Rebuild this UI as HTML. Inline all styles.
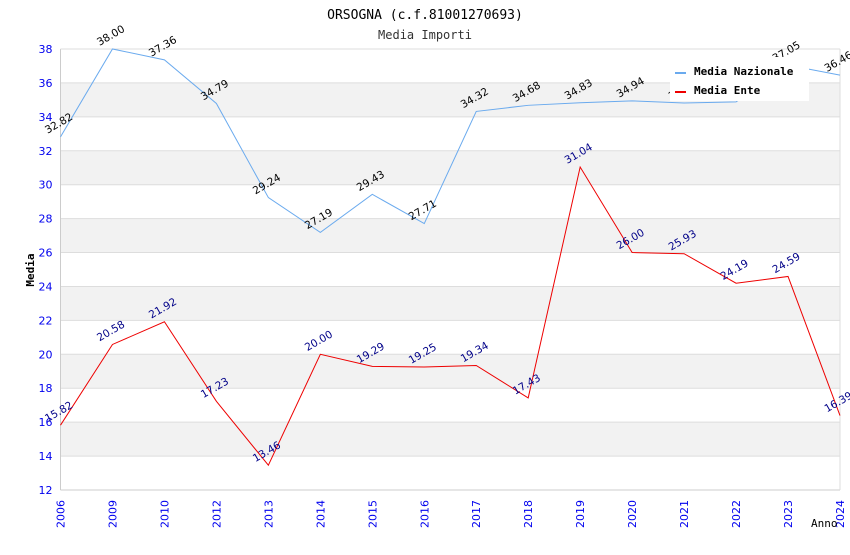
<!DOCTYPE html>
<html><head><meta charset="utf-8"><style>
body{margin:0;background:#fff}
svg text{font-family:"DejaVu Sans Mono","Liberation Mono",monospace}
svg text.s{font-family:"DejaVu Sans","Liberation Sans",sans-serif}
</style></head><body>
<svg id="c" width="850" height="550" xmlns="http://www.w3.org/2000/svg">
<text x="425" y="19" text-anchor="middle" font-size="13" fill="#000">ORSOGNA (c.f.81001270693)</text>
<text x="425" y="39" text-anchor="middle" font-size="12" fill="#333">Media Importi</text>
<g id="grid"></g><g id="axes"></g><g id="series"></g>
<text transform="translate(34,270) rotate(-90)" text-anchor="middle" font-size="11" font-weight="bold">Media</text>
<text x="811" y="527" font-size="11" fill="#000">Anno</text>
<g id="legend">
<rect x="670" y="57" width="139" height="44" fill="#fff"/>
<rect x="675" y="72" width="11" height="2" fill="#6aaaee"/>
<text x="694" y="75" font-size="11" font-weight="bold">Media Nazionale</text>
<rect x="675" y="91" width="11" height="2" fill="#ee0000"/>
<text x="694" y="94" font-size="11" font-weight="bold">Media Ente</text>
</g>
</svg>
<script>
const categories=["2006","2009","2010","2012","2013","2014","2015","2016","2017","2018","2019","2020","2021","2022","2023","2024"];
const nazionale=[32.82,38.00,37.36,34.79,29.24,27.19,29.43,27.71,34.32,34.68,34.83,34.94,34.82,34.88,37.05,36.46];
const ente=[15.82,20.58,21.92,17.23,13.46,20.00,19.29,19.25,19.34,17.43,31.04,26.00,25.93,24.19,24.59,16.39];
const yTicks=[12,14,16,18,20,22,24,26,28,30,32,34,36,38];
const NS="http://www.w3.org/2000/svg";
const L=60.5,R=840,T=49,B=490,yMin=12,yMax=38;
const xs=i=>L+(R-L)*i/(categories.length-1);
const ys=v=>B-(v-yMin)/(yMax-yMin)*(B-T);
function mk(tag,at,parent){const e=document.createElementNS(NS,tag);for(const k in at)e.setAttribute(k,at[k]);parent.appendChild(e);return e;}
const g=document.getElementById('grid'),ax=document.getElementById('axes'),sg=document.getElementById('series');
for(let i=0;i<yTicks.length-1;i++){const a=yTicks[i],b=yTicks[i+1];
 const r=mk('rect',{x:L,y:ys(b),width:R-L,height:ys(a)-ys(b),fill:(Math.floor(a/2)%2===1)?'#f2f2f2':'#fff'},g);
 
 }
yTicks.forEach(v=>{const l=mk('line',{x1:L,x2:R,y1:ys(v),y2:ys(v),stroke:'#ddd'},g);
 
 
 const t=mk('text',{x:L-8,y:ys(v)+4,'text-anchor':'end','font-size':11,fill:'#0000ee',class:'s'},ax);t.textContent=v;
 
 });
mk('line',{x1:L,x2:L,y1:T,y2:B,stroke:'#ccc'},ax);
mk('line',{x1:L,x2:R,y1:B,y2:B,stroke:'#ccc'},ax);
mk('line',{x1:R,x2:R,y1:T,y2:B,stroke:'#ddd'},ax);
mk('line',{x1:L,x2:R,y1:T,y2:T,stroke:'#ddd'},ax);
categories.forEach((c,i)=>{const t=mk('text',{transform:`translate(${xs(i)+4},${B+38}) rotate(-90)`,'font-size':11,fill:'#0000ee',class:'s'},ax);t.textContent=c;
 
 });
function series(data,color,lc,name){
 const p=mk('polyline',{points:data.map((v,i)=>xs(i)+','+ys(v)).join(' '),fill:'none',stroke:color,'stroke-width':1},sg);
 
 
 data.forEach((v,i)=>{const t=mk('text',{transform:`translate(${xs(i)-13},${ys(v)-3}) rotate(-30)`,'font-size':10.5,fill:lc,class:'s'},sg);t.textContent=v.toFixed(2);
  
  });
}
series(nazionale,'#6aaaee','#000','nazionale');
series(ente,'#ee0000','#000088','ente');
document.getElementById('c').appendChild(document.getElementById('legend'));
</script>
</body></html>
